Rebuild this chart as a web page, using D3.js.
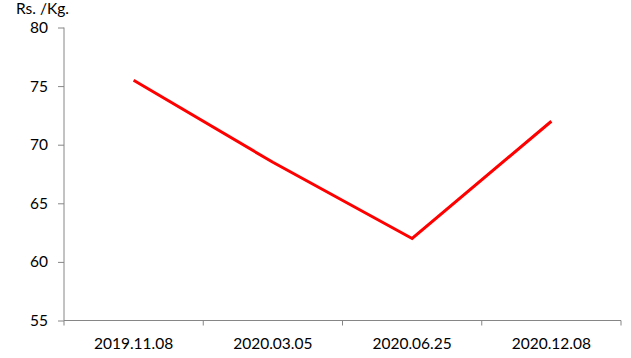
<!DOCTYPE html>
<html>
<head>
<meta charset="utf-8">
<script src="https://cdn.jsdelivr.net/npm/d3@7"></script>
<style>
  body { margin: 0; background: #fff; }
  svg text { font-family: Lato, "Open Sans", sans-serif; font-size: 15.5px; fill: #000; }
</style>
</head>
<body>
<svg id="chart" width="631" height="358"></svg>
<script>
// Price per kilogram on each survey date
const dates = ["2019.11.08", "2020.03.05", "2020.06.25", "2020.12.08"];
const prices = [75.5, 68.5, 62, 72];
const yTicks = [55, 60, 65, 70, 75, 80];
const unitLabel = "Rs. /Kg.";

const svg = d3.select("#chart");
const margin = { left: 64, right: 10, top: 27.5, bottom: 37.5 };
const W = 631, H = 358;

const x = d3.scaleBand().domain(dates).range([margin.left, W - margin.right]).padding(0);
const y = d3.scaleLinear().domain([55, 80]).range([H - margin.bottom, margin.top]);

const axisColor = "#868686";

// y axis
const yAxis = svg.append("g")
  .attr("transform", `translate(${margin.left},0)`)
  .call(d3.axisLeft(y).tickValues(yTicks).tickSize(6).tickPadding(10).tickFormat(d3.format("d")));
yAxis.select(".domain").attr("stroke", axisColor).attr("d", `M0,${y(55)}V${y(80)}`);
yAxis.selectAll(".tick line").attr("stroke", axisColor);

// x axis with ticks at band boundaries
const xAxisG = svg.append("g").attr("transform", `translate(0,${y(55)})`);
xAxisG.append("line")
  .attr("x1", margin.left).attr("x2", W - margin.right)
  .attr("stroke", axisColor);
const bounds = dates.map(d => x(d)).concat([x(dates[dates.length - 1]) + x.bandwidth()]);
xAxisG.selectAll("line.tk").data(bounds).join("line")
  .attr("class", "tk")
  .attr("x1", d => d).attr("x2", d => d)
  .attr("y1", 0).attr("y2", 5)
  .attr("stroke", axisColor);
xAxisG.selectAll("text").data(dates).join("text")
  .attr("x", d => x(d) + x.bandwidth() / 2)
  .attr("y", 28)
  .attr("text-anchor", "middle")
  .text(d => d);

// unit label
svg.append("text").attr("x", 16).attr("y", 14).text(unitLabel);

// price line
const line = d3.line()
  .x((d, i) => x(dates[i]) + x.bandwidth() / 2)
  .y(d => y(d));
svg.append("path")
  .datum(prices)
  .attr("d", line)
  .attr("fill", "none")
  .attr("stroke", "#ff0000")
  .attr("stroke-width", 3)
  .attr("stroke-linejoin", "miter");
</script>
</body>
</html>
